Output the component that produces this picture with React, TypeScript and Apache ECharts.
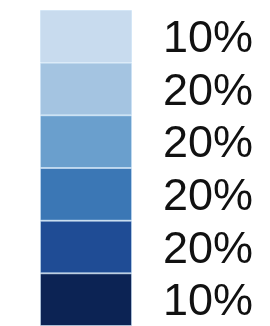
import React, { useEffect, useRef } from "react";
import * as echarts from "echarts";

const categories = ["A", "B", "C", "D", "E", "F"];
const shares = [10, 20, 20, 20, 20, 10];
const blockUnits = [1, 1, 1, 1, 1, 1];
const colors = ["#c8dbee", "#a4c4e1", "#6a9fcd", "#3b77b5", "#1f4c95", "#0c2354"];

export default function App() {
  const ref = useRef<HTMLDivElement>(null);
  useEffect(() => {
    if (!ref.current) return;
    const chart = echarts.init(ref.current, null, { renderer: "svg" });
    chart.setOption({
      animation: false,
      grid: { left: 40, width: 92, top: 10, height: 318 },
      xAxis: { type: "value", min: 0, max: 1, show: false },
      yAxis: {
        type: "category",
        data: categories,
        inverse: true,
        show: false,
      },
      series: [
        {
          type: "bar",
          barCategoryGap: 0,
          data: blockUnits.map((v, i) => ({
            value: v,
            itemStyle: { color: colors[i] },
            label: { formatter: `${shares[i]}%` },
          })),
          itemStyle: { borderColor: "rgba(200,225,248,0.55)", borderWidth: 1 },
          label: {
            show: true,
            position: "right",
            distance: 31,
            fontFamily: "'Liberation Sans', Arial, sans-serif",
            fontSize: 45,
            lineHeight: 45,
            color: "#111111",
          },
        },
      ],
    });
    return () => chart.dispose();
  }, []);
  return <div ref={ref} style={{ position: "fixed", left: 0, top: 0, width: 270, height: 326 }} />;
}
